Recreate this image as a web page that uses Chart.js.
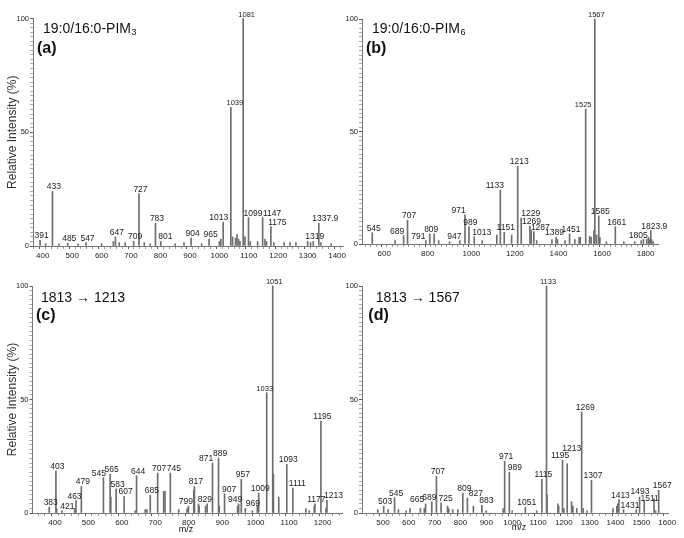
<!DOCTYPE html>
<html>
<head>
<meta charset="utf-8">
<script src="https://cdn.jsdelivr.net/npm/chart.js@4.4.1/dist/chart.umd.min.js"></script>
<style>
html,body{margin:0;padding:0;background:#ffffff;}
#wrap{position:relative;width:684px;height:538px;overflow:hidden;background:#fff;}
#wrap canvas{position:absolute;}
</style>
</head>
<body>
<div id="wrap">
<canvas id="ca" width="350" height="268" style="left:0px;top:0px;width:350px;height:268px"></canvas>
<canvas id="cb" width="342" height="268" style="left:342px;top:0px;width:342px;height:268px"></canvas>
<canvas id="cc" width="350" height="270" style="left:0px;top:268px;width:350px;height:270px"></canvas>
<canvas id="cd" width="342" height="270" style="left:342px;top:268px;width:342px;height:270px"></canvas>
</div>
<script>
// ---------------- DATA ----------------
// Panel (a) 19:0/16:0-PIM3 : labelled peaks (m/z, relative intensity %)
const mzA  = [391, 433, 485, 547, 647, 709, 727, 783, 801, 904, 965, 1013, 1039, 1081, 1099, 1147, 1175, 1319, 1337.9];
const intA = [2.5, 24, 1.2, 1.5, 4, 2, 23, 10, 2, 3.5, 3, 10.5, 61, 100, 12.5, 12.5, 8.5, 2, 10];
// Panel (a) unlabelled minor peaks
const minorMzA  = [410, 455, 520, 600, 640, 660, 680, 745, 765, 850, 880, 940, 1000, 1005, 1045, 1055, 1060, 1065, 1070, 1087, 1105, 1130, 1155, 1160, 1185, 1220, 1240, 1260, 1300, 1310, 1345, 1380];
const minorIntA = [1, 1, 1, 1, 2, 1.5, 1.5, 1.5, 1, 1, 1.5, 1, 2, 3, 4, 3.5, 5, 3, 2, 4, 2, 2, 3, 2, 1.5, 1.5, 1.5, 1.5, 2, 1.5, 1.5, 1];
const xTicksA = [400, 500, 600, 700, 800, 900, 1000, 1100, 1200, 1300, 1400];

// Panel (b) 19:0/16:0-PIM6
const mzB  = [545, 689, 707, 791, 809, 947, 971, 989, 1013, 1133, 1151, 1213, 1229, 1269, 1287, 1389, 1451, 1525, 1567, 1585, 1661, 1805, 1823.9];
const intB = [5, 3.7, 10.5, 1.5, 4.5, 1.5, 13, 7.7, 3.3, 24, 5.2, 34.5, 11.5, 8, 5.5, 3, 4.5, 60, 100, 12.5, 7.7, 2, 6];
const minorMzB  = [650, 829, 850, 900, 1050, 1117, 1185, 1275, 1300, 1370, 1395, 1430, 1475, 1495, 1500, 1543, 1550, 1563, 1575, 1590, 1620, 1700, 1750, 1780, 1790, 1813, 1818, 1828, 1835];
const minorIntB = [1.5, 4.5, 1.5, 1, 1.5, 4, 4, 6, 1.5, 2, 2, 1.5, 2, 3, 3, 3.5, 3, 6, 4, 3, 1, 1, 1, 1.5, 2, 3, 2, 2, 1];
const xTicksB = [600, 800, 1000, 1200, 1400, 1600, 1800];

// Panel (c) 1813 -> 1213
const mzC  = [383, 403, 421, 463, 479, 545, 565, 583, 607, 644, 685, 707, 745, 799, 817, 829, 871, 889, 907, 949, 957, 969, 1009, 1033, 1051, 1093, 1111, 1177, 1195, 1213];
const intC = [2.5, 18.5, 1, 5.5, 11.7, 15.6, 17, 10.7, 7.3, 16.4, 7.8, 17.6, 17.6, 3, 11.7, 4, 22, 24.2, 8.5, 4, 14.8, 2, 8.8, 53, 100, 21.4, 11, 4, 40.5, 5.6];
const minorMzC  = [405, 459, 567, 640, 670, 675, 725, 729, 770, 795, 815, 831, 850, 855, 891, 946, 990, 1005, 1053, 1069, 1150, 1160, 1175, 1210];
const minorIntC = [2, 2, 7, 1, 1.5, 1.5, 9.5, 9.5, 1.5, 2, 10, 3, 3, 4, 3, 3, 1, 3, 17, 7, 2, 1, 3, 2];
const xTicksC = [400, 500, 600, 700, 800, 900, 1000, 1100, 1200];

// Panel (d) 1813 -> 1567
const mzD  = [503, 545, 665, 689, 707, 725, 809, 827, 883, 971, 989, 1051, 1115, 1133, 1195, 1213, 1269, 1307, 1413, 1431, 1493, 1511, 1567];
const intD = [3, 6.8, 4, 5, 16.1, 4.5, 8.8, 6.6, 3.4, 22.8, 18, 2.5, 14.8, 100, 23.2, 21.7, 44.5, 14.4, 5.9, 1.5, 7, 5.6, 10];
const minorMzD  = [480, 520, 560, 590, 605, 645, 660, 750, 755, 770, 790, 850, 900, 965, 1000, 1095, 1135, 1177, 1180, 1200, 1230, 1235, 1250, 1275, 1290, 1390, 1405, 1409, 1480, 1549, 1555];
const minorIntD = [1.5, 1.5, 1.5, 1, 2, 2, 2, 3, 2, 1.5, 1.5, 3, 1, 2, 1, 1, 8, 4, 3, 2, 5, 3, 2, 2, 1, 2, 3, 4, 1.5, 6.3, 1];
const xTicksD = [500, 600, 700, 800, 900, 1000, 1100, 1200, 1300, 1400, 1500, 1600];

const yTickLabels = [0, 50, 100];
const yTitle = 'Relative Intensity (%)';
const xTitle = 'm/z';

// ---------------- STYLE / HELPERS ----------------
const FONT = '"Liberation Sans", Arial, Helvetica, sans-serif';
const PEAK_COLOR = '#6e6e6e';

const peakLabels = {
  id: 'peakLabels',
  afterDatasetsDraw(chart, args, opts) {
    const ctx = chart.ctx;
    const meta = chart.getDatasetMeta(0);
    const data = chart.data.datasets[0].data;
    const shift = opts.shift || {};
    ctx.save();
    ctx.fillStyle = '#1a1a1a';
    ctx.textAlign = 'center';
    ctx.textBaseline = 'alphabetic';
    meta.data.forEach((el, i) => {
      const p = data[i];
      const s = shift[String(p.x)] || [0, 0];
      const fs = p.y > 50 ? 7.5 : 8.5;
      ctx.font = fs + 'px ' + FONT;
      ctx.fillText(String(p.x), el.x + 1.5 + s[0], el.y - 2 + s[1]);
    });
    ctx.restore();
  }
};

const panelText = {
  id: 'panelText',
  afterDraw(chart, args, opts) {
    const ctx = chart.ctx;
    ctx.save();
    ctx.fillStyle = '#111';
    ctx.textBaseline = 'alphabetic';
    (opts.items || []).forEach(it => {
      ctx.font = it.font;
      ctx.textAlign = it.align || 'left';
      ctx.fillText(it.text, it.x, it.y);
      if (it.sub) {
        const w = ctx.measureText(it.text).width;
        ctx.font = it.subFont;
        ctx.textAlign = 'left';
        ctx.fillText(it.sub, it.x + w + 0.5, it.y + 2);
      }
    });
    ctx.restore();
  }
};

function pts(mz, ints) { return mz.map((x, i) => ({ x: x, y: ints[i] })); }

function makePanel(id, p) {
  const minorStep = p.minorStep;
  return new Chart(document.getElementById(id), {
    type: 'bar',
    data: {
      datasets: [
        { data: pts(p.mz, p.int), backgroundColor: PEAK_COLOR, barThickness: 1, borderWidth: 0, grouped: false, clip: false },
        { data: pts(p.minorMz, p.minorInt), backgroundColor: PEAK_COLOR, barThickness: 1, borderWidth: 0, grouped: false, clip: false }
      ]
    },
    options: {
      responsive: false,
      animation: false,
      events: [],
      layout: { padding: p.pad },
      scales: {
        x: {
          type: 'linear', min: p.xmin, max: p.xmax, offset: false,
          afterBuildTicks: s => {
            const t = [];
            for (let v = Math.ceil(p.xmin / minorStep) * minorStep; v <= p.xmax; v += minorStep) t.push({ value: v });
            s.ticks = t;
          },
          afterFit: s => { s.height = 20; },
          ticks: {
            autoSkip: false, maxRotation: 0, minRotation: 0, padding: 2,
            color: '#222', font: { size: 8, family: FONT },
            callback: v => p.xTicks.includes(v) ? String(v) : ''
          },
          grid: {
            drawOnChartArea: false, drawTicks: true, tickLength: 3,
            tickColor: c => (c.tick && p.xTicks.includes(c.tick.value)) ? '#555' : '#999'
          },
          border: { display: true, color: '#777', width: 1 }
        },
        y: {
          type: 'linear', min: 0, max: 100,
          afterBuildTicks: s => {
            const t = [];
            for (let v = 0; v <= 100; v += 2) t.push({ value: v });
            s.ticks = t;
          },
          afterFit: s => { s.width = p.yW; },
          ticks: {
            autoSkip: false, padding: 1, color: '#222', font: { size: 7.5, family: FONT },
            callback: v => yTickLabels.includes(v) ? String(v) : ''
          },
          grid: {
            drawOnChartArea: false, drawTicks: true, tickLength: 3,
            tickColor: c => (c.tick && yTickLabels.includes(c.tick.value)) ? '#555' : '#aaa'
          },
          border: { display: true, color: '#777', width: 1 },
          title: {
            display: !!p.yTitle, text: yTitle, color: '#333',
            font: { size: 12, family: FONT }, padding: { top: 5, bottom: 0 }
          }
        }
      },
      plugins: {
        legend: { display: false },
        tooltip: { enabled: false },
        panelText: { items: p.texts },
        peakLabels: { shift: p.shift }
      }
    },
    plugins: [peakLabels, panelText]
  });
}

const T14 = '14px ' + FONT, SUB = '9px ' + FONT, BOLD = 'bold 16px ' + FONT, AX = '9px ' + FONT;

makePanel('ca', {
  mz: mzA, int: intA, minorMz: minorMzA, minorInt: minorIntA, xTicks: xTicksA,
  xmin: 367, xmax: 1420, minorStep: 20, yW: 33, yTitle: true,
  pad: { left: 0, right: 7, top: 18.5, bottom: 2 },
  shift: { '1039': [2.5, 0], '1081': [2, 0], '1099': [3, 0], '1147': [8, 0], '1175': [5, 0], '1337.9': [5, 0], '801': [3, 0], '1013': [-6, 0] },
  texts: [
    { text: '19:0/16:0-PIM', sub: '3', x: 43, y: 33.3, font: T14, subFont: SUB },
    { text: '(a)', x: 37, y: 53.3, font: BOLD }
  ]
});
makePanel('cb', {
  mz: mzB, int: intB, minorMz: minorMzB, minorInt: minorIntB, xTicks: xTicksB,
  xmin: 498, xmax: 1857, minorStep: 25, yW: 20, yTitle: false,
  pad: { left: 0, right: 26, top: 19, bottom: 4 },
  shift: { '689': [-8, 0], '791': [-9, 0], '947': [-7, 0], '971': [-8, 0], '1013': [6, 0], '1133': [-7, 0], '1229': [8, 0], '1287': [5, 0], '1389': [-3, 0], '1525': [-4, 0], '1805': [-10, 0], '1823.9': [2, 0] },
  texts: [
    { text: '19:0/16:0-PIM', sub: '6', x: 30, y: 33.3, font: T14, subFont: SUB },
    { text: '(b)', x: 24, y: 53.3, font: BOLD }
  ]
});
makePanel('cc', {
  mz: mzC, int: intC, minorMz: minorMzC, minorInt: minorIntC, xTicks: xTicksC,
  xmin: 333, xmax: 1258, minorStep: 20, yW: 32.5, yTitle: true,
  pad: { left: 0, right: 8, top: 18, bottom: 5 },
  shift: { '545': [-6, 0], '871': [-8, 0], '799': [-4, 0], '829': [5, 0], '949': [-5, 0], '969': [6, 0], '907': [3, 0], '1033': [-3.5, 0], '1111': [3, 0], '1213': [5, 0], '421': [4, 0], '463': [-3, 0], '745': [2, 0] },
  texts: [
    { text: '1813 \u2192 1213', x: 41, y: 33.7, font: T14 },
    { text: '(c)', x: 36, y: 52, font: BOLD },
    { text: xTitle, x: 186, y: 264, font: AX, align: 'center' }
  ]
});
makePanel('cd', {
  mz: mzD, int: intD, minorMz: minorMzD, minorInt: minorIntD, xTicks: xTicksD,
  xmin: 419, xmax: 1605, minorStep: 25, yW: 20, yTitle: false,
  pad: { left: 0, right: 15.5, top: 18, bottom: 5 },
  shift: { '665': [-10, 0], '689': [-4, 0], '725': [3, 0], '827': [7, 0], '989': [4, 0], '883': [3, 0], '1195': [-4, 0], '1213': [3, -11], '1269': [2, 0], '1431': [5, 0], '1493': [-1, -1], '1511': [4, 3], '1567': [2, 0] },
  texts: [
    { text: '1813 \u2192 1567', x: 33.7, y: 33.7, font: T14 },
    { text: '(d)', x: 26.3, y: 52, font: BOLD },
    { text: xTitle, x: 177, y: 262, font: AX, align: 'center' }
  ]
});
</script>
</body>
</html>
